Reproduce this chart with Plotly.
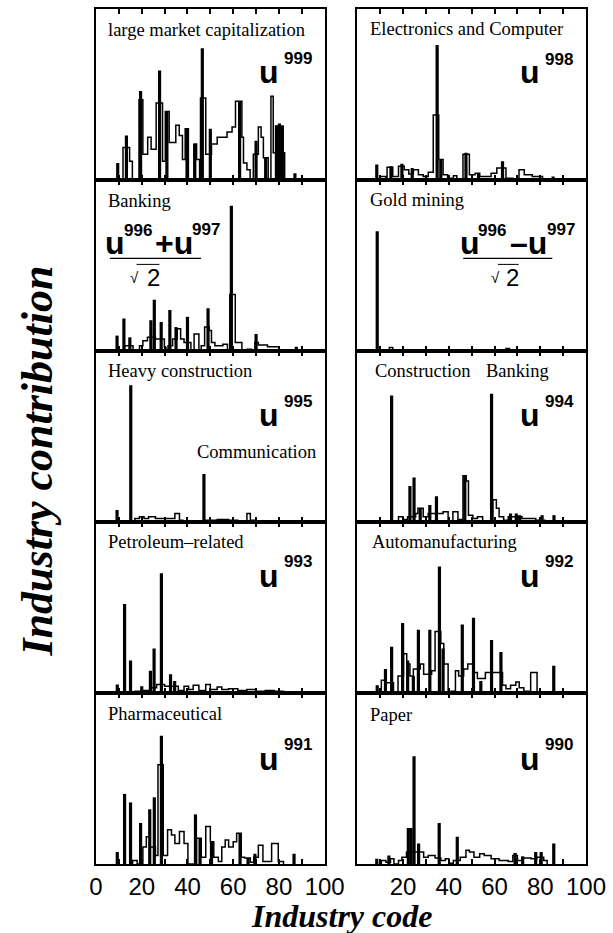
import plotly.graph_objects as go
from plotly.subplots import make_subplots

# ---------------- data (industry code vs. contribution, arbitrary units) ----------------
# outline histogram: left bin edge -> height until next edge ; black bars: code -> height
p1_step_x = [11.8, 14.7, 15.9, 18.8, 20.5, 22.6, 24.1, 26.3, 29.1, 30.3, 32.0, 34.9, 36.4, 37.8, 39.0, 40.4,
             42.9, 44.0, 45.3, 45.7, 48.0, 50.5, 53.0, 57.3, 59.5, 61.0, 63.8, 64.5, 66.0, 67.4,
             68.8, 71.0, 72.2, 73.2, 75.3, 76.5, 77.5, 82.5]
p1_step_y = [0.19, 0.11, 0, 0.47, 0.15, 0.25, 0.18, 0.45, 0.11, 0.40, 0.22, 0.32, 0.26, 0.12, 0.30, 0,
             0.21, 0.12, 0, 0.48, 0.15, 0.21, 0.25, 0.28, 0.31, 0.46, 0.25, 0.10, 0.06, 0,
             0.15, 0.31, 0.25, 0.13, 0, 0.49, 0.16, 0]
p1_bar_x = [9.5, 13.3, 19.5, 27.8, 31.0, 39.8, 43.2, 46.5, 50.0, 62.8, 70.0, 74.2, 78.9, 80.2, 81.5, 87.0]
p1_bar_y = [0.10, 0.26, 0.52, 0.64, 0.40, 0.30, 0.21, 0.77, 0.30, 0.46, 0.23, 0.13, 0.32, 0.33, 0.32, 0.04]

p2_step_x = [12.5, 16.2, 19.0, 20.5, 22.5, 26.0, 29.9, 30.6, 31.5, 33.5, 35.5, 37.0, 38.5, 41.5, 42.9, 45.0,
             46.0, 47.5, 49.5, 50.5, 52.0, 55.5, 57.5, 58.5, 60.9, 63.8, 66.0, 68.0, 69.5, 71.0, 75.0, 80.0]
p2_step_y = [0.03, 0, 0.03, 0.06, 0.08, 0.07, 0.02, 0, 0.03, 0.07, 0.13, 0.07, 0.05, 0, 0.10, 0,
             0.03, 0.14, 0.12, 0.05, 0.03, 0.04, 0, 0.33, 0.05, 0, 0.01, 0, 0.05, 0.035, 0.025, 0]
p2_bar_x = [9.2, 12.2, 14.8, 24.0, 25.5, 28.5, 32.3, 35.0, 40.0, 49.0, 59.2, 70.0, 87.6]
p2_bar_y = [0.09, 0.19, 0.08, 0.18, 0.30, 0.17, 0.24, 0.14, 0.20, 0.25, 0.85, 0.10, 0.025]

p3_step_x = [17, 19, 21, 23, 26, 34.5, 36.5, 38, 48, 53, 58, 62, 66, 67.5, 70]
p3_step_y = [0.02, 0.03, 0.02, 0.03, 0.02, 0.05, 0.01, 0, 0.01, 0.015, 0.01, 0, 0.05, 0.01, 0]
p3_bar_x = [9.2, 15.2, 47.2]
p3_bar_y = [0.07, 0.80, 0.28]

p4_step_x = [17, 21, 24, 26.5, 30, 33.5, 36, 38.5, 40.5, 42.5, 45, 48, 50, 53, 55, 58, 62, 66, 70, 74, 78, 82]
p4_step_y = [0.01, 0.015, 0.03, 0.05, 0.04, 0.04, 0.015, 0.04, 0.02, 0.045, 0.015, 0.05, 0.02, 0.035,
             0.02, 0.025, 0.015, 0.02, 0.01, 0.015, 0.01, 0]
p4_bar_x = [9.3, 12.5, 15.1, 20.0, 23.8, 25.4, 28.6, 32.6, 34.4]
p4_bar_y = [0.05, 0.52, 0.19, 0.04, 0.13, 0.26, 0.70, 0.11, 0.07]

p5_step_x = [16, 18, 20.5, 22, 23.5, 26, 27.1, 29.4, 31.3, 33, 34.5, 36.5, 38.5, 40.2, 44, 46, 48, 50,
             51.5, 53.5, 55, 56.5, 58, 60, 61.5, 63.5, 65, 67.5, 69, 71, 73, 76.8, 79.7, 82]
p5_step_y = [0.02, 0, 0.10, 0.16, 0.10, 0.05, 0.58, 0.05, 0.20, 0.17, 0.12, 0.19, 0.12, 0, 0.15, 0.04,
             0.22, 0.13, 0.04, 0.015, 0.10, 0.14, 0.10, 0.13, 0.18, 0.04, 0.035, 0.01, 0.04, 0.11,
             0.015, 0.12, 0.015, 0]
p5_bar_x = [9.3, 12.5, 15.1, 19.5, 23.5, 25.5, 28.6, 43.5, 45.5, 50.5, 63.0, 66.5, 69.5, 86.6]
p5_bar_y = [0.07, 0.41, 0.36, 0.24, 0.32, 0.39, 0.75, 0.29, 0.15, 0.13, 0.18, 0.035, 0.06, 0.06]

p6_step_x = [10, 12.5, 13, 15.5, 18, 20.5, 22.5, 24.5, 26.7, 28.8, 31, 33.2, 35.6, 37.5, 39.5, 42, 43.5,
             46.2, 49, 51.5, 53.5, 58.5, 61, 65, 68, 70.7, 73, 76.5, 81]
p6_step_y = [0.02, 0, 0.075, 0.02, 0.08, 0.06, 0.035, 0.06, 0.03, 0.02, 0.045, 0.38, 0.12, 0.03, 0.01,
             0.025, 0.005, 0.15, 0.03, 0.04, 0.02, 0.04, 0.07, 0.01, 0, 0.06, 0.03, 0.02, 0]
p6_bar_x = [8.5, 14.7, 19.5, 24.0, 34.9, 36.5, 47.5, 53.0, 63.5, 85.6]
p6_bar_y = [0.09, 0.08, 0.095, 0.07, 0.79, 0.12, 0.16, 0.04, 0.11, 0.02]

p7_step_x = [14, 15.5, 46.5, 48, 65, 66.5]
p7_step_y = [0.02, 0, 0.005, 0, 0.015, 0]
p7_bar_x = [8.7]
p7_bar_y = [0.70]

p8_step_x = [18, 20, 22, 25.5, 26.5, 28.8, 31, 33, 35.5, 37.5, 39.7, 41.8, 44, 46.2, 47.6, 48.6, 50.5,
             52.5, 54.8, 59.3, 60.8, 62, 64, 66, 72, 78, 82]
p8_step_y = [0.03, 0.015, 0.03, 0.05, 0.08, 0.03, 0.05, 0.05, 0.05, 0.06, 0, 0.06, 0.015, 0.27, 0.24,
             0.04, 0.02, 0.03, 0.005, 0.13, 0.08, 0.03, 0.01, 0.03, 0.02, 0.01, 0]
p8_bar_x = [8.5, 15.0, 23.0, 24.8, 27.5, 31.7, 34.6, 47.0, 58.7, 67.0, 69.5, 71.0, 80.8, 86.0]
p8_bar_y = [0.01, 0.74, 0.21, 0.26, 0.08, 0.10, 0.15, 0.27, 0.75, 0.05, 0.05, 0.04, 0.04, 0.04]

p9_step_x = [10.5, 12.5, 15.8, 17.8, 20.2, 21.6, 23, 24.5, 27.5, 29, 31, 32.5, 34, 36.5, 37.8, 39.7,
             41, 42.9, 44.3, 46.5, 48.3, 50.5, 52.5, 56, 59.5, 63.5, 65, 67, 69.3, 70.8, 72.8, 75.8, 78.6]
p9_step_y = [0.075, 0.06, 0, 0.10, 0.23, 0.17, 0.10, 0.14, 0.17, 0.11, 0.11, 0.13, 0.36, 0.29, 0.17, 0,
             0.01, 0.13, 0.10, 0.14, 0.17, 0.12, 0.085, 0.12, 0.12, 0.045, 0.025, 0.045, 0.065, 0.03,
             0.01, 0.12, 0]
p9_bar_x = [8.7, 12.3, 15.0, 19.8, 22.0, 24.5, 26.7, 31.7, 35.9, 37.5, 45.9, 50.8, 54.0, 58.7, 62.8, 85.9]
p9_bar_y = [0.045, 0.14, 0.27, 0.41, 0.19, 0.10, 0.37, 0.37, 0.74, 0.26, 0.40, 0.44, 0.07, 0.31, 0.24, 0.16]

p10_step_x = [10.5, 12.5, 14.5, 16, 18, 19.5, 21.5, 27.5, 29, 31, 34, 36.5, 38.5, 40, 42, 45, 47.5, 49,
              51, 53.5, 55.5, 58.5, 62, 66, 68, 70, 72.5, 76, 78.5, 81.5, 83]
p10_step_y = [0.02, 0.01, 0.03, 0, 0.02, 0.04, 0.07, 0.07, 0.04, 0.05, 0.035, 0.02, 0.03, 0.005, 0.02,
              0.04, 0.08, 0.07, 0.04, 0.06, 0.05, 0.03, 0.02, 0.015, 0.05, 0.02, 0.035, 0.03, 0.04, 0.02, 0]
p10_bar_x = [8.5, 13.8, 22.3, 23.5, 24.8, 26.8, 35.8, 43.7, 69.0, 72.3, 78.0, 80.4, 85.9]
p10_bar_y = [0.03, 0.05, 0.21, 0.21, 0.63, 0.12, 0.24, 0.16, 0.065, 0.045, 0.07, 0.07, 0.12]

tick_vals = [0, 10, 20, 30, 40, 50, 60, 70, 80, 90, 100]
tick_text_left = ["0", "", "20", "", "40", "", "60", "", "80", "", "100"]
tick_text_right = ["", "", "20", "", "40", "", "60", "", "80", "", "100"]

panel_labels = ["large market capitalization", "Banking", "Heavy construction", "Petroleum\u2013related",
                "Pharmaceutical", "Electronics and Computer", "Gold mining", "Automanufacturing", "Paper"]
eigen_labels = ["999", "995", "993", "991", "998", "994", "992", "990"]

# ---------------- figure ----------------
W, H = 613, 933
ML, MR, MT, MB = 96, 22, 7, 69
PW, PH = W - ML - MR, H - MT - MB


def px(x):  # page pixel -> paper
    return (x - ML) / PW


def py(y):
    return (H - MB - y) / PH


fig = make_subplots(rows=5, cols=2, horizontal_spacing=33 / PW, vertical_spacing=0)

panels = [
    (1, 1, p1_step_x, p1_step_y, p1_bar_x, p1_bar_y),
    (2, 1, p2_step_x, p2_step_y, p2_bar_x, p2_bar_y),
    (3, 1, p3_step_x, p3_step_y, p3_bar_x, p3_bar_y),
    (4, 1, p4_step_x, p4_step_y, p4_bar_x, p4_bar_y),
    (5, 1, p5_step_x, p5_step_y, p5_bar_x, p5_bar_y),
    (1, 2, p6_step_x, p6_step_y, p6_bar_x, p6_bar_y),
    (2, 2, p7_step_x, p7_step_y, p7_bar_x, p7_bar_y),
    (3, 2, p8_step_x, p8_step_y, p8_bar_x, p8_bar_y),
    (4, 2, p9_step_x, p9_step_y, p9_bar_x, p9_bar_y),
    (5, 2, p10_step_x, p10_step_y, p10_bar_x, p10_bar_y),
]

for r, c, sx, sy, bx, by in panels:
    fig.add_trace(go.Scatter(x=[sx[0]] + sx, y=[0] + sy, mode="lines",
                             line=dict(color="black", width=1.5, shape="hv"),
                             showlegend=False, hoverinfo="skip"), row=r, col=c)
    fig.add_trace(go.Bar(x=bx, y=by, width=1.4, marker=dict(color="black", line=dict(width=0)),
                         showlegend=False), row=r, col=c)
    fig.update_xaxes(range=[0, 100], tickmode="array", tickvals=tick_vals,
                     ticktext=tick_text_left if c == 1 else tick_text_right,
                     showticklabels=(r == 5), ticks="inside", ticklen=5, tickwidth=1.5,
                     tickcolor="black", showline=True, linewidth=2, linecolor="black",
                     mirror="ticks", showgrid=False, zeroline=False,
                     tickfont=dict(family="Liberation Sans", size=24, color="black"),
                     ticklabelstandoff=0, row=r, col=c)
    fig.update_yaxes(range=[0, 1], showline=True, linewidth=2, linecolor="black", mirror=True,
                     showticklabels=False, ticks="", showgrid=False, zeroline=False, row=r, col=c)

ann = []
serif = "Liberation Serif"
sans = "Liberation Sans"


def text_at(text, x, baseline, size, family, anchor="left", bold=False, **kw):
    ann.append(dict(text=text, x=px(x), y=py(baseline - 0.36 * size), xref="paper", yref="paper",
                    xanchor=anchor, yanchor="middle", showarrow=False,
                    font=dict(family=family, size=size, color="black",
                              weight="bold" if bold else "normal"), **kw))


LS = 18.5
# panel labels
text_at(panel_labels[0], 106, 35, LS, serif)
text_at(panel_labels[1], 106, 206, LS, serif)
text_at(panel_labels[2], 106, 377, LS, serif)
text_at(panel_labels[3], 106, 548, LS, serif)
text_at(panel_labels[4], 106, 720, LS, serif)
text_at(panel_labels[5], 371, 34, LS, serif)
text_at(panel_labels[6], 371, 205, LS, serif)
text_at("Construction", 376, 377, LS, serif)
text_at("Banking", 488, 377, LS, serif)
text_at(panel_labels[7], 373, 548, LS, serif)
text_at(panel_labels[8], 371, 721, LS, serif)
text_at("Communication", 196, 458, LS, serif)

# eigenvector labels u^k
u_pos = [(283, 82, 63), (283, 425, 407), (283, 587, 567), (283, 770, 750),
         (547, 82, 64), (547, 425, 407), (547, 587, 567), (547, 770, 750)]
for lab, (xr, bu, bs) in zip(eigen_labels, u_pos):
    text_at("u", xr, bu, 32, sans, anchor="right", bold=True)
    text_at(lab, xr + 1, bs, 17, sans, bold=True)

# combined eigenvectors (u996 +/- u997)/sqrt2
for xu, op, xs1, xop, xs2, x0, x1, xsq, x2 in [
        (103, "+u", 122, 154, 191, 110, 202, 128, 145),
        (462, "\u2013u", 480, 512, 550, 467, 557, 493, 508)]:
    text_at("u", xu, 253, 32, sans, bold=True)
    text_at("996", xs1, 235, 17, sans, bold=True)
    text_at(op, xop, 253, 32, sans, bold=True)
    text_at("997", xs2, 234, 17, sans, bold=True)
    text_at("\u221a", xsq, 282, 15, sans)
    text_at("2", x2, 285, 24, sans)
    fig.add_shape(type="line", xref="paper", yref="paper", x0=px(x0), x1=px(x1), y0=py(257), y1=py(257),
                  line=dict(color="black", width=1.3))
    fig.add_shape(type="line", xref="paper", yref="paper", x0=px(xsq + 9), x1=px(x2 + 15), y0=py(263),
                  y1=py(263), line=dict(color="black", width=1))

# axis titles
ann.append(dict(text="Industry code", x=px(344), y=py(916), xref="paper", yref="paper",
                xanchor="center", yanchor="middle", showarrow=False,
                font=dict(family=serif, size=32, color="black", weight="bold", style="italic")))
ann.append(dict(text="Industry contribution", x=px(37), y=py(460), xref="paper", yref="paper",
                xanchor="center", yanchor="middle", showarrow=False, textangle=-90,
                font=dict(family=serif, size=44, color="black", weight="bold", style="italic")))

fig.update_layout(width=W, height=H, margin=dict(l=ML, r=MR, t=MT, b=MB),
                  paper_bgcolor="white", plot_bgcolor="white", barmode="overlay",
                  annotations=ann, showlegend=False)

fig.write_html("out.html", config={"displayModeBar": False},
               post_script="document.body.style.margin='0px';document.body.style.overflow='hidden';")
